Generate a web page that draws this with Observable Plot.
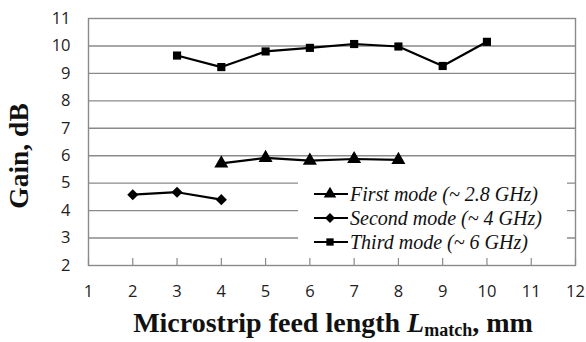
<!DOCTYPE html>
<html>
<head>
<meta charset="utf-8">
<script src="https://cdn.jsdelivr.net/npm/d3@7"></script>
<script src="https://cdn.jsdelivr.net/npm/@observablehq/plot@0.6"></script>
<style>
  html, body { margin: 0; padding: 0; background: #fff; }
  #wrap { position: relative; width: 586px; height: 342px; }
  #legend {
    position: absolute; left: 298px; top: 174px; width: 269px; height: 84px;
    background: #fff; font-family: "Liberation Serif", "Times New Roman", serif;
    font-style: italic; font-size: 20px; color: #111;
  }
  #legend .row { position: absolute; left: 15px; height: 22px; display: flex; align-items: center; white-space: nowrap; }
  #legend svg { display: block; margin-right: 1px; }
</style>
</head>
<body>
<div id="wrap"><div id="legend"></div></div>
<script>
// Microstrip feed length L_match (mm)
const firstX  = [4, 5, 6, 7, 8];
const firstY  = [5.72, 5.92, 5.82, 5.88, 5.85];
const secondX = [2, 3, 4];
const secondY = [4.58, 4.67, 4.40];
const thirdX  = [3, 4, 5, 6, 7, 8, 9, 10];
const thirdY  = [9.65, 9.23, 9.80, 9.93, 10.07, 9.98, 9.27, 10.15];

const seriesNames = ["First mode (~ 2.8 GHz)", "Second mode (~ 4 GHz)", "Third mode (~ 6 GHz)"];
const seriesSymbols = ["triangle", "diamond2", "square"];
const xTicks = [1, 2, 3, 4, 5, 6, 7, 8, 9, 10, 11, 12];
const yTicks = [2, 3, 4, 5, 6, 7, 8, 9, 10, 11];
const yGrid = [3, 4, 5, 6, 7, 8, 9, 10];

const series = [
  {name: seriesNames[0], symbol: seriesSymbols[0], r: 5.2, rows: firstX.map((x, i) => ({x, y: firstY[i]}))},
  {name: seriesNames[1], symbol: seriesSymbols[1], r: 5.0, rows: secondX.map((x, i) => ({x, y: secondY[i]}))},
  {name: seriesNames[2], symbol: seriesSymbols[2], r: 4.6, rows: thirdX.map((x, i) => ({x, y: thirdY[i]}))}
];

const grid = "#8a8a8a";
const tickFont = "'Open Sans', sans-serif";

const chart = Plot.plot({
  width: 586,
  height: 342,
  marginLeft: 88,
  marginRight: 11,
  marginTop: 18,
  marginBottom: 77,
  style: {background: "transparent", color: "#222"},
  x: {domain: [1, 12]},
  y: {domain: [2, 11]},
  marks: [
    Plot.ruleY(yGrid, {stroke: grid, strokeWidth: 1.4}),
    Plot.frame({stroke: grid, strokeWidth: 1.4}),
    Plot.tickX(xTicks, {x: d => d, stroke: grid, strokeWidth: 1.2, insetTop: 240}),
    Plot.axisX({ticks: xTicks, tickSize: 0, tickPadding: 20, fontSize: 16.5, fontFamily: tickFont, label: null}),
    Plot.axisY({ticks: yTicks, tickSize: 0, tickPadding: 18, fontSize: 16.5, fontFamily: tickFont, label: null}),
    ...series.flatMap(s => [
      Plot.line(s.rows, {x: "x", y: "y", stroke: "#000", strokeWidth: 2.2}),
      Plot.dot(s.rows, {x: "x", y: "y", symbol: () => s.symbol, r: s.r, fill: "#000", stroke: "none"})
    ])
  ]
});

const svg = d3.select(chart);
// Axis titles
const xt = svg.append("text")
  .attr("x", 333).attr("y", 332)
  .attr("text-anchor", "middle")
  .attr("font-family", "'Liberation Serif', 'Times New Roman', serif")
  .attr("font-weight", "bold").attr("font-size", 28).attr("fill", "#111");
xt.append("tspan").text("Microstrip feed length ");
xt.append("tspan").attr("font-style", "italic").text("L");
xt.append("tspan").attr("font-size", 18).attr("dy", 4).text("match");
xt.append("tspan").attr("dy", -4).text(", mm");

svg.append("text")
  .attr("transform", "translate(28,156) rotate(-90)")
  .attr("text-anchor", "middle")
  .attr("font-family", "'Liberation Serif', 'Times New Roman', serif")
  .attr("font-weight", "bold").attr("font-size", 27.5).attr("fill", "#111")
  .text("Gain, dB");

document.getElementById("wrap").prepend(chart);

// Legend
const legend = d3.select("#legend");
series.forEach((s, i) => {
  const row = legend.append("div").attr("class", "row").style("top", (9 + i * 24) + "px");
  const sv = row.append("svg").attr("width", 36).attr("height", 14);
  sv.append("line").attr("x1", 1).attr("x2", 35).attr("y1", 7).attr("y2", 7)
    .attr("stroke", "#000").attr("stroke-width", 2.2);
  const sym = {triangle: d3.symbolTriangle, diamond2: d3.symbolDiamond2, square: d3.symbolSquare}[s.symbol];
  sv.append("path").attr("transform", "translate(17,7)")
    .attr("d", d3.symbol(sym, Math.PI * s.r * s.r * 0.8)()).attr("fill", "#000");
  row.append("span").text(s.name);
});
</script>
</body>
</html>
